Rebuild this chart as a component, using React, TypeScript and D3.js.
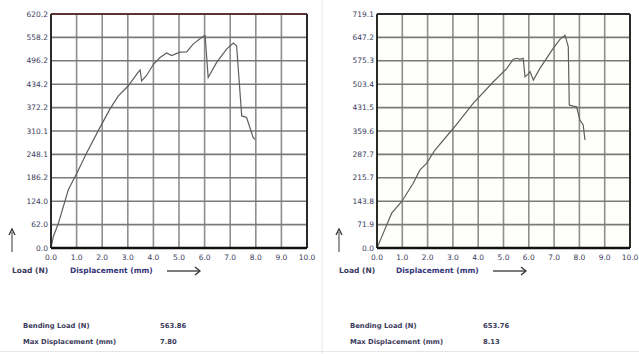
import React from "react";
import * as d3 from "d3";

// ---- data ----
const xTickLabels = ["0.0", "1.0", "2.0", "3.0", "4.0", "5.0", "6.0", "7.0", "8.0", "9.0", "10.0"];

const leftYTickLabels = ["0.0", "62.0", "124.0", "186.2", "248.1", "310.1", "372.2", "434.2", "496.2", "558.2", "620.2"];
const rightYTickLabels = ["0.0", "71.9", "143.8", "215.7", "287.7", "359.6", "431.5", "503.4", "575.3", "647.2", "719.1"];

const leftDisp = [0, 0.09, 0.29, 0.68, 1.0, 1.39, 1.91, 2.3, 2.63, 3.02, 3.35, 3.48, 3.54, 3.74, 4.0, 4.26, 4.52, 4.71, 5.04, 5.3, 5.56, 5.95, 6.02, 6.14, 6.47, 6.86, 7.12, 7.25, 7.45, 7.64, 7.9, 7.97];
const leftLoad = [0, 30, 66, 155, 197, 252, 319, 368, 403, 430, 461, 472, 443, 458, 487, 505, 517, 510, 519, 520, 541, 561, 563, 452, 492, 527, 543, 536, 350, 346, 292, 288];

const rightDisp = [0, 0.19, 0.58, 0.98, 1.43, 1.7, 1.96, 2.29, 3.02, 3.81, 4.6, 5.13, 5.39, 5.52, 5.65, 5.78, 5.85, 5.98, 6.05, 6.18, 6.44, 6.97, 7.23, 7.43, 7.56, 7.6, 7.76, 7.89, 8.02, 8.15, 8.22];
const rightLoad = [0, 35, 107, 143, 199, 240, 260, 301, 368, 445, 511, 552, 580, 583, 580, 583, 526, 535, 542, 516, 552, 614, 641, 654, 619, 439, 436, 434, 393, 378, 332];

const summaryLabels = ["Bending Load (N)", "Max Displacement (mm)"];
const leftSummary = ["563.86", "7.80"];
const rightSummary = ["653.76", "8.13"];

// ---- component ----
type ChartProps = {
  x0: number;
  x1: number;
  disp: number[];
  load: number[];
  yLabels: string[];
  summary: string[];
  plotFill: string;
  topStroke: string;
  valueX: number;
  textX: number;
};

const TOP = 14;
const BOTTOM = 248;
const FONT = "DejaVu Sans, Verdana, sans-serif";
const TEXT_COL = "#3b3b5c";

function Chart(p: ChartProps) {
  const yMax = parseFloat(p.yLabels[p.yLabels.length - 1]);
  const x = d3.scaleLinear().domain([0, 10]).range([p.x0, p.x1]);
  const y = d3.scaleLinear().domain([0, yMax]).range([BOTTOM, TOP]);
  const pts: [number, number][] = p.disp.map((d, i) => [d, p.load[i]]);
  const line = d3
    .line<[number, number]>()
    .x((d) => x(d[0]))
    .y((d) => y(d[1]));
  const xTicks = xTickLabels.map((l) => parseFloat(l));
  const yTicks = p.yLabels.map((l, i) => (yMax * i) / 10);

  return (
    <g>
      <rect x={p.x0} y={TOP} width={p.x1 - p.x0} height={BOTTOM - TOP} fill={p.plotFill} />
      {xTicks.map((t, i) =>
        i > 0 && i < xTicks.length - 1 ? (
          <line key={"vx" + i} x1={x(t)} x2={x(t)} y1={TOP} y2={BOTTOM} stroke="#8e8e8e" strokeWidth={1.6} />
        ) : null
      )}
      {yTicks.map((t, i) =>
        i > 0 && i < yTicks.length - 1 ? (
          <line key={"hy" + i} x1={p.x0} x2={p.x1} y1={y(t)} y2={y(t)} stroke="#7a7a7a" strokeWidth={1.6} />
        ) : null
      )}
      <path d={line(pts) || ""} fill="none" stroke="#5e5e5e" strokeWidth={1.2} />
      {/* border */}
      <line x1={p.x0} x2={p.x1} y1={TOP} y2={TOP} stroke={p.topStroke} strokeWidth={2} />
      <line x1={p.x0} x2={p.x0} y1={TOP} y2={BOTTOM} stroke="#2a2a2a" strokeWidth={2} />
      <line x1={p.x1} x2={p.x1} y1={TOP} y2={BOTTOM} stroke="#2a2a2a" strokeWidth={2} />
      <line x1={p.x0} x2={p.x1} y1={BOTTOM} y2={BOTTOM} stroke="#111" strokeWidth={2.5} />
      {/* y tick labels */}
      {p.yLabels.map((l, i) => (
        <text key={"yl" + i} x={p.x0 - 3} y={y(yTicks[i])} dy="0.35em" textAnchor="end" fontSize={7.5} fontFamily={FONT} fill={TEXT_COL}>
          {l}
        </text>
      ))}
      {/* x tick labels */}
      {xTickLabels.map((l, i) => (
        <text key={"xl" + i} x={x(xTicks[i])} y={260} textAnchor="middle" fontSize={7.5} fontFamily={FONT} fill={TEXT_COL}>
          {l}
        </text>
      ))}
      {/* axis captions */}
      <line x1={p.textX - 11} x2={p.textX - 11} y1={252} y2={232} stroke="#555" strokeWidth={1.2} />
      <path d={`M${p.textX - 14},${235} L${p.textX - 11},${229} L${p.textX - 8},${235}`} fill="none" stroke="#333" strokeWidth={1.3} />
      <text x={p.textX - 11} y={273} fontSize={7.5} fontFamily={FONT} fontWeight="bold" fill={TEXT_COL}>
        Load (N)
      </text>
      <text x={p.x0 + 19} y={273} fontSize={7.5} fontFamily={FONT} fontWeight="bold" fill="#35357a">
        Displacement (mm)
      </text>
      <line x1={p.x0 + 116} x2={p.x0 + 148} y1={271} y2={271} stroke="#333" strokeWidth={1.3} />
      <path d={`M${p.x0 + 144},${267} L${p.x0 + 149},${271} L${p.x0 + 144},${275}`} fill="none" stroke="#333" strokeWidth={1.3} />
      {/* summary */}
      {summaryLabels.map((s, i) => (
        <g key={"s" + i}>
          <text x={p.textX} y={328 + i * 16} fontSize={6.8} fontFamily={FONT} fontWeight="bold" fill={TEXT_COL}>
            {s}
          </text>
          <text x={p.valueX} y={328 + i * 16} fontSize={6.8} fontFamily={FONT} fontWeight="bold" fill={TEXT_COL}>
            {p.summary[i]}
          </text>
        </g>
      ))}
    </g>
  );
}

export default function App() {
  return (
    <svg width={639} height={354} style={{ position: "absolute", left: 0, top: 0, background: "#fff" }}>
      <rect x={0} y={0} width={639} height={354} fill="#fff" />
      <line x1={322} x2={322} y1={0} y2={354} stroke="#e6e6e6" strokeWidth={1} />
      <line x1={0} x2={639} y1={351.5} y2={351.5} stroke="#e6e6e6" strokeWidth={1} />
      <Chart
        x0={51}
        x1={307}
        disp={leftDisp}
        load={leftLoad}
        yLabels={leftYTickLabels}
        summary={leftSummary}
        plotFill="#ffffff"
        topStroke="#5a3434"
        textX={23}
        valueX={160}
      />
      <Chart
        x0={377}
        x1={630}
        disp={rightDisp}
        load={rightLoad}
        yLabels={rightYTickLabels}
        summary={rightSummary}
        plotFill="#fefefb"
        topStroke="#2a2a2a"
        textX={350}
        valueX={483}
      />
    </svg>
  );
}
